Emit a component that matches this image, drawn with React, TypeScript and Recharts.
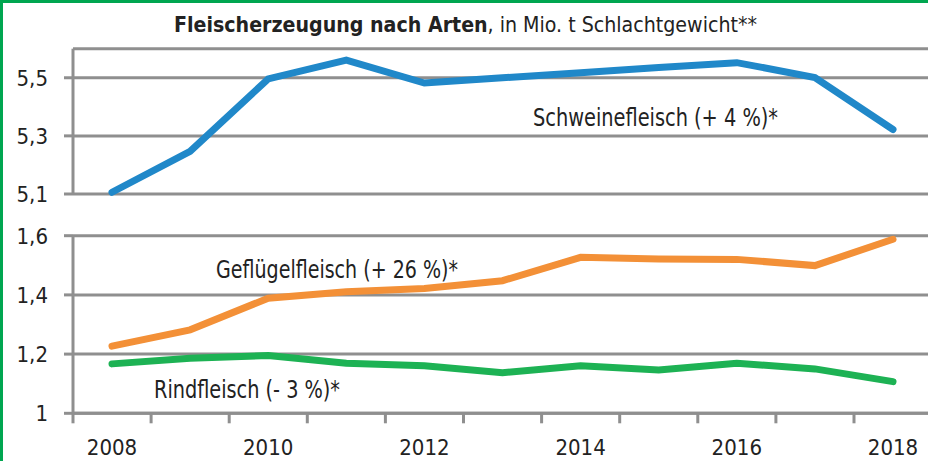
import React from "react";
import { LineChart, Line, XAxis, YAxis, CartesianGrid } from "recharts";

const years = ["2008", "2009", "2010", "2011", "2012", "2013", "2014", "2015", "2016", "2017", "2018"];
const schwein = [5.106, 5.247, 5.496, 5.561, 5.482, 5.5, 5.517, 5.535, 5.552, 5.501, 5.322];
const gefluegel = [1.227, 1.282, 1.389, 1.411, 1.422, 1.448, 1.527, 1.521, 1.52, 1.499, 1.588];
const rind = [1.167, 1.186, 1.195, 1.169, 1.161, 1.137, 1.161, 1.146, 1.169, 1.15, 1.107];
const topTicks = [5.1, 5.3, 5.5];
const bottomTicks = [1, 1.2, 1.4, 1.6];

const topData = years.map((year, i) => ({ year, schwein: schwein[i] }));
const bottomData = years.map((year, i) => ({ year, gefluegel: gefluegel[i], rind: rind[i] }));

const FONT = "'Liberation Sans Narrow', 'DejaVu Sans Condensed', sans-serif";
const GRID = "#8f8f8f";
const HALF = 39;

const fmt = (v: number) => String(v).replace(".", ",");

function YearTick(props: any) {
  const { x, y, payload, index } = props;
  const year = Number(payload.value);
  return (
    <g>
      <line x1={x - HALF} x2={x - HALF} y1={y - 10} y2={y} stroke={GRID} strokeWidth={3} />
      {index === years.length - 1 && (
        <line x1={x + HALF} x2={x + HALF} y1={y - 10} y2={y} stroke={GRID} strokeWidth={3} />
      )}
      {year % 2 === 0 && (
        <text x={x} y={y + 32} textAnchor="middle" fontSize={22} fill="#222" fontFamily={FONT}>
          {payload.value}
        </text>
      )}
    </g>
  );
}

const yTick = { fontSize: 22, fill: "#222", fontFamily: FONT };

export default function App() {
  return (
    <div
      style={{
        position: "absolute",
        left: 0,
        top: 0,
        width: 928,
        height: 461,
        overflow: "hidden",
        background: "#fff",
        fontFamily: FONT,
      }}
    >
      {/* green frame, only top and left visible */}
      <div style={{ position: "absolute", left: 0, top: 0, width: 928, height: 3, background: "#00a650" }} />
      <div style={{ position: "absolute", left: 0, top: 0, width: 3, height: 461, background: "#00a650" }} />

      <svg width={928} height={461} style={{ position: "absolute", left: 0, top: 0 }}>
        <text x={174} y={32} fontFamily={FONT} fontSize={22} fill="#222" textLength={583} lengthAdjust="spacingAndGlyphs">
          <tspan fontWeight="bold">Fleischerzeugung nach Arten</tspan>, in Mio. t Schlachtgewicht**
        </text>
      </svg>

      {/* upper panel: Schweinefleisch */}
      <div style={{ position: "absolute", left: 0, top: 0 }}>
        <LineChart width={932} height={210} data={topData} margin={{ top: 48.7, right: 0, bottom: 16, left: 0 }}>
          <CartesianGrid vertical={false} stroke={GRID} strokeWidth={3} />
          <XAxis dataKey="year" hide padding={{ left: HALF, right: HALF }} />
          <YAxis
            width={73}
            domain={[5.1, 5.6]}
            ticks={topTicks}
            tickFormatter={fmt}
            tick={yTick}
            tickSize={9}
            tickMargin={16}
            axisLine={{ stroke: GRID, strokeWidth: 3 }}
            tickLine={{ stroke: GRID, strokeWidth: 3 }}
          />
          <Line
            dataKey="schwein"
            stroke="#2088c9"
            strokeWidth={7}
            strokeLinecap="round"
            dot={false}
            isAnimationActive={false}
          />
        </LineChart>
      </div>

      {/* lower panel: Geflügel and Rind */}
      <div style={{ position: "absolute", left: 0, top: 200 }}>
        <LineChart width={932} height={261} data={bottomData} margin={{ top: 35.7, right: 0, bottom: 0, left: 0 }}>
          <CartesianGrid vertical={false} stroke={GRID} strokeWidth={3} />
          <XAxis
            dataKey="year"
            height={47.7}
            padding={{ left: HALF, right: HALF }}
            interval={0}
            tick={<YearTick />}
            tickLine={false}
            tickSize={10}
            tickMargin={0}
            axisLine={{ stroke: GRID, strokeWidth: 3 }}
          />
          <YAxis
            width={73}
            domain={[1, 1.6]}
            ticks={bottomTicks}
            tickFormatter={fmt}
            tick={yTick}
            tickSize={9}
            tickMargin={16}
            axisLine={{ stroke: GRID, strokeWidth: 3 }}
            tickLine={{ stroke: GRID, strokeWidth: 3 }}
          />
          <Line
            dataKey="gefluegel"
            stroke="#f39037"
            strokeWidth={7}
            strokeLinecap="round"
            dot={false}
            isAnimationActive={false}
          />
          <Line
            dataKey="rind"
            stroke="#1db254"
            strokeWidth={7}
            strokeLinecap="round"
            dot={false}
            isAnimationActive={false}
          />
        </LineChart>
      </div>

      <svg width={928} height={461} style={{ position: "absolute", left: 0, top: 0, pointerEvents: "none" }}>
        <g fontFamily={FONT} fontSize={25} fill="#222">
          <text x={533} y={126} textLength={245} lengthAdjust="spacingAndGlyphs">Schweinefleisch (+ 4 %)*</text>
          <text x={216} y={278} textLength={242} lengthAdjust="spacingAndGlyphs">Geflügelfleisch (+ 26 %)*</text>
          <text x={154} y={398} textLength={186} lengthAdjust="spacingAndGlyphs">Rindfleisch (- 3 %)*</text>
        </g>
      </svg>
    </div>
  );
}
